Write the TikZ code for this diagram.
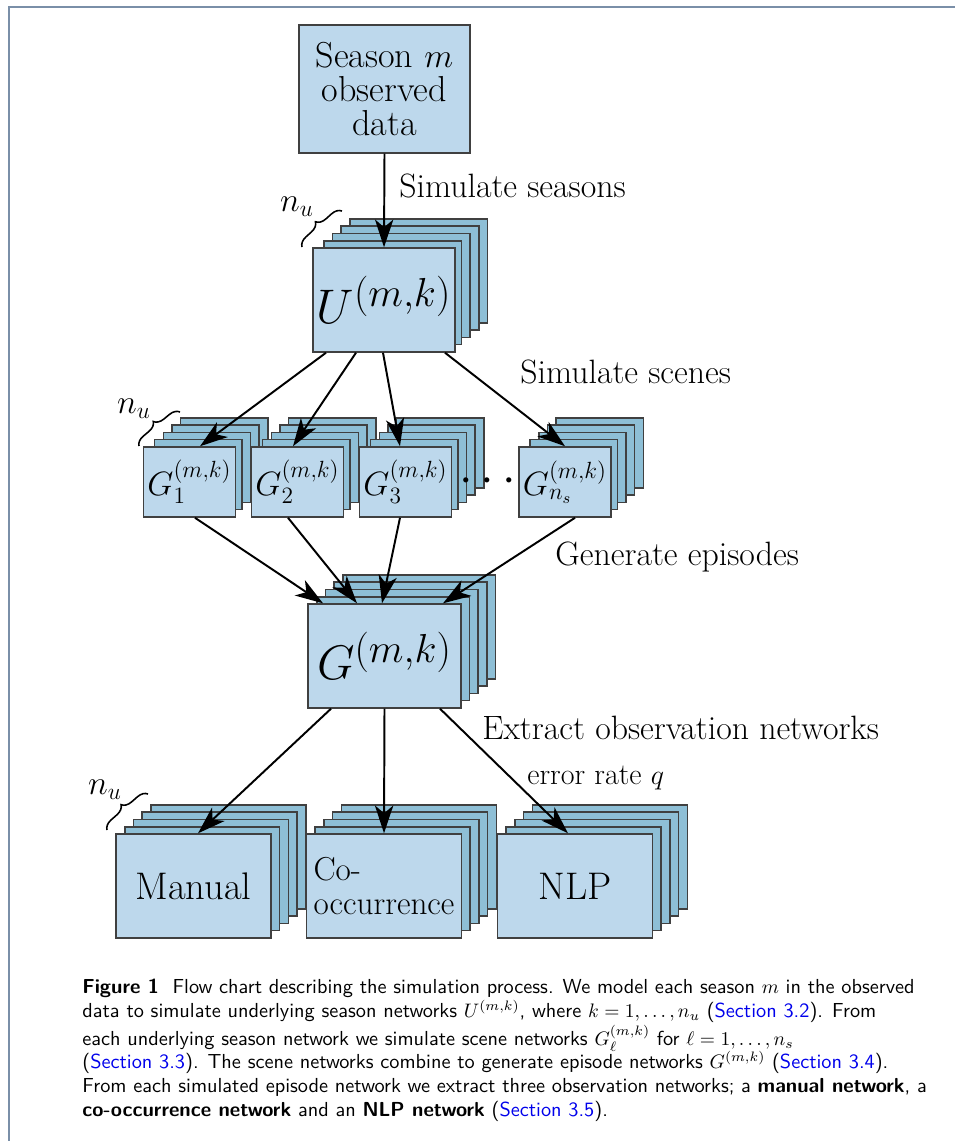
\documentclass[tikz,border=0pt]{standalone}
\usepackage{amsmath}
\usepackage{xcolor}
\usepackage{tikz}
\usetikzlibrary{positioning, calc, arrows.meta, decorations.pathreplacing}
\definecolor{boxfront}{RGB}{189,216,236}
\definecolor{boxback}{RGB}{142,191,214}
\definecolor{framecol}{RGB}{122,143,168}
\definecolor{linkblue}{RGB}{0,0,235}
\tikzset{front/.style={
          draw=black!75,
          fill=boxfront,
          rectangle,
          line width=0.8pt,
          inner sep=2pt,
          align=center,
          font=\fontsize{17}{17}\selectfont
     }}
\tikzset{back/.style={
          front,
          fill=boxback
     }}
\tikzset{bigbox/.style={minimum width=2.48cm, minimum height=1.87cm}}
\tikzset{epbox/.style={minimum width=2.75cm, minimum height=1.87cm}}
\tikzset{scenebox/.style={minimum width=1.57cm, minimum height=1.26cm}}
\tikzset{obsbox/.style={minimum width=2.79cm, minimum height=1.87cm}}
\tikzset{lbl/.style={inner sep=0pt, font=\fontsize{17.3}{20}\selectfont}}
\tikzstyle{arrow} = [line width=1pt,-{Stealth[length=0.5cm,width=0.33cm,inset=0.14cm]}]
\tikzstyle{nbrace} = [decorate, decoration={brace, amplitude=5pt}, line width=0.8pt]
\newcommand{\nstack}[4][]{% style, name, centre, text
  \foreach \k in {4,3,2,1}
    \node[back,#1] at ($(#3)+(8.7*\k,-7.3*\k)$) {};
  \node[front,#1] (#2) at (#3) {#4};
}
\newcommand{\sref}[1]{\textcolor{linkblue}{Section #1}}

\begin{document}
\begin{tikzpicture}[x=0.018cm, y=-0.018cm]
\useasboundingbox (0,0) rectangle (955,1141);
\draw [framecol, line width=1pt] (9,1141) -- (9,7) -- (955,7);

\node (season) [front, minimum width=3.08cm, minimum height=2.30cm, font=\fontsize{18.5}{17.5}\selectfont] at (384.5,89) {Season $m$\\observed\\data};
\nstack[bigbox]{U}{384,300}{\fontsize{31.5}{31.5}\selectfont$U^{(m,k)}$}
\nstack[scenebox]{G1}{189.5,482}{$G_1^{(m,k)}$}
\nstack[scenebox]{G2}{297.5,482}{$G_2^{(m,k)}$}
\nstack[scenebox]{G3}{405.5,482}{$G_3^{(m,k)}$}
\nstack[scenebox]{Gns}{565,482}{$G_{n_s}^{(m,k)}$}
\node (dots) at (491.5,482) {\fontsize{26}{26}\selectfont$\cdots$};
\nstack[epbox]{G}{384.5,656}{\fontsize{32.5}{32.5}\selectfont$G^{(m,k)}$}
\nstack[obsbox, font=\fontsize{19.7}{19.7}\selectfont]{manual}{193.5,886}{Manual}
\nstack[obsbox, align=left]{cooc}{384,886}{Co-\\occurrence}
\nstack[obsbox, font=\fontsize{19.7}{19.7}\selectfont]{nlp}{575,886}{NLP}

% braces for the n_u copies
\draw [nbrace] (302,247) -- (342,211);
\node (nuU) [lbl] at (297,207) {$n_u$};
\draw [nbrace] (139,446) -- (180,412);
\node (nuG) [lbl] at (134,409) {$n_u$};
\draw [nbrace] (107,830) -- (148,794);
\node (nuO) [lbl] at (105,790) {$n_u$};

\node (simseasons) [lbl, anchor=west] at (399,186) {Simulate seasons};
\node (simscenes) [lbl, anchor=west] at (520,372) {Simulate scenes};
\node (genep) [lbl, anchor=west] at (555,557) {Generate episodes};
\node (extract) [lbl, anchor=west] at (482,728) {Extract observation networks};
\node (errq) [inner sep=0pt, anchor=west, font=\fontsize{15.4}{18}\selectfont] at (527,778) {error rate $q$};

\draw [arrow] (season.south) -- (U.north);
\draw [arrow] ($(U.south)+(-58,0)$) -- ($(G1.north)+(10.5,0)$);
\draw [arrow] ($(U.south)+(-28,0)$) -- ($(G2.north)+(-4.5,0)$);
\draw [arrow] ($(U.south)+(-1,0)$) -- ($(G3.north)+(-5.5,0)$);
\draw [arrow] ($(U.south)+(61,0)$) -- (Gns.north);
\draw [arrow] ($(G1.south)+(5.5,0)$) -- ($(G.north)+(-61.5,0)$);
\draw [arrow] ($(G2.south)+(-9.5,0)$) -- ($(G.north)+(-27.5,0)$);
\draw [arrow] ($(G3.south)+(-5.5,0)$) -- ($(G.north)+(-2.5,0)$);
\draw [arrow] ($(Gns.south)+(10,0)$) -- ($(G.north)+(58.5,0)$);
\draw [arrow] ($(G.south)+(-53.5,0)$) -- ($(manual.north)+(4.5,0)$);
\draw [arrow] (G.south) -- (cooc.north);
\draw [arrow] ($(G.south)+(55.5,0)$) -- ($(nlp.north)+(-7,0)$);

\node (caption) [anchor=north west, align=left, inner sep=0pt, font=\sffamily\fontsize{10.4}{12.2}\selectfont] at (82,979)
{\textbf{Figure 1}\ \ Flow chart describing the simulation process. We model each season $m$ in the observed\\
data to simulate underlying season networks $U^{(m,k)}$, where $k=1,\ldots,n_u$ (\sref{3.2}). From\\
each underlying season network we simulate scene networks $G_\ell^{(m,k)}$ for $\ell=1,\ldots,n_s$\\
(\sref{3.3}). The scene networks combine to generate episode networks $G^{(m,k)}$ (\sref{3.4}).\\
From each simulated episode network we extract three observation networks; a \textbf{manual network}, a\\
\textbf{co-occurrence network} and an \textbf{NLP network} (\sref{3.5}).};
\end{tikzpicture}
\end{document}
